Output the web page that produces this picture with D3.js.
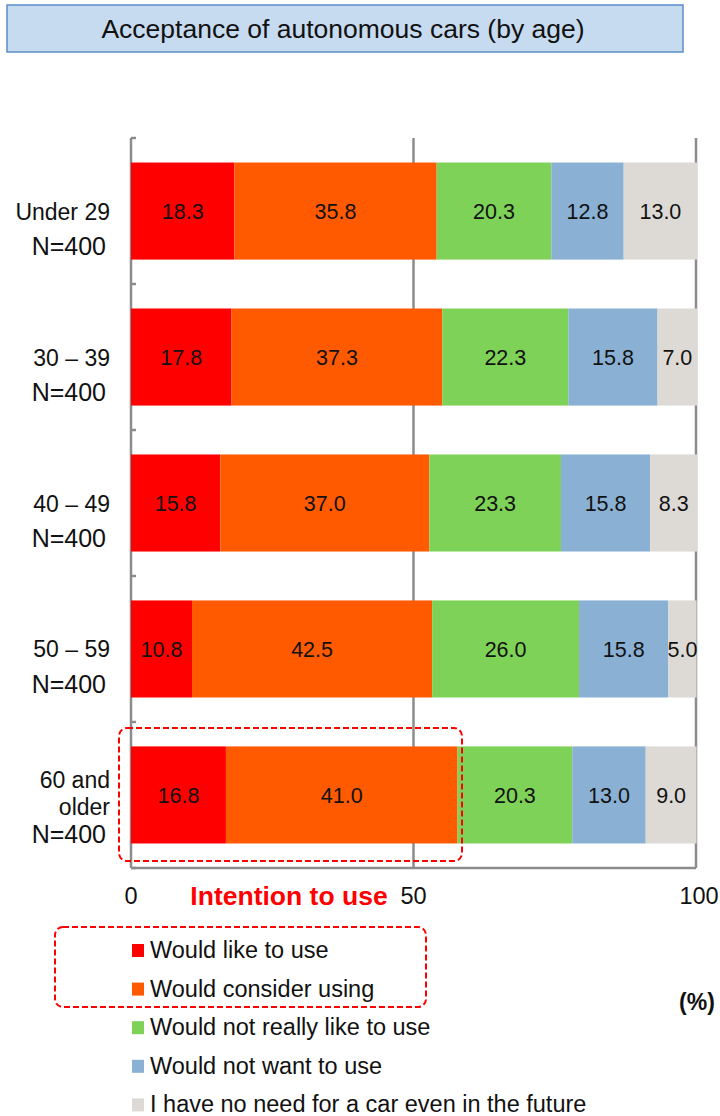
<!DOCTYPE html>
<html>
<head>
<meta charset="utf-8">
<script src="https://cdn.jsdelivr.net/npm/d3@7"></script>
<style>
  body { margin: 0; background: #fff; }
  svg { display: block; font-family: "Liberation Sans", Arial, sans-serif; }
</style>
</head>
<body>
<svg id="chart" width="720" height="1116"></svg>
<script>
// ── Data ─────────────────────────────────────────────────────────────────────
const categories = [
  ["Under 29", "N=400"],
  ["30 – 39", "N=400"],
  ["40 – 49", "N=400"],
  ["50 – 59", "N=400"],
  ["60 and", "older", "N=400"]
];
const seriesNames = [
  "Would like to use",
  "Would consider using",
  "Would not really like to use",
  "Would not want to use",
  "I have no need for a car even in the future"
];
const wouldLike     = [18.3, 17.8, 15.8, 10.8, 16.8];
const wouldConsider = [35.8, 37.3, 37.0, 42.5, 41.0];
const notReally     = [20.3, 22.3, 23.3, 26.0, 20.3];
const notWant       = [12.8, 15.8, 15.8, 15.8, 13.0];
const noNeed        = [13.0,  7.0,  8.3,  5.0,  9.0];
const xTicks = [0, 50, 100];

const colors = ["#ff0000", "#ff5a00", "#7ed257", "#8ab0d3", "#dddad5"];
const seriesVals = [wouldLike, wouldConsider, notReally, notWant, noNeed];

const rows = categories.map((c, i) => {
  const r = { idx: i };
  seriesNames.forEach((s, k) => r[s] = seriesVals[k][i]);
  return r;
});
const stacked = d3.stack().keys(seriesNames)(rows);

// ── Layout ───────────────────────────────────────────────────────────────────
const svg = d3.select("#chart");
const plot = { left: 131, right: 696, top: 138, bottom: 868 };

const x = d3.scaleLinear().domain([0, 100]).range([plot.left, plot.right]);
const y = d3.scaleBand().domain(d3.range(categories.length))
  .range([plot.top, plot.bottom]).paddingInner(0.335).paddingOuter(0.168);

// ── Title box ────────────────────────────────────────────────────────────────
svg.append("rect")
  .attr("x", 7).attr("y", 5).attr("width", 676).attr("height", 47)
  .attr("fill", "#c6daf0").attr("stroke", "#5b8fc7").attr("stroke-width", 1.5);
svg.append("text")
  .attr("x", 343).attr("y", 38).attr("text-anchor", "middle")
  .attr("font-size", 26.5).attr("fill", "#111")
  .text("Acceptance of autonomous cars (by age)");

// ── Frame & gridline ─────────────────────────────────────────────────────────
const frame = svg.append("g").attr("stroke", "#8c8c8c").attr("stroke-width", 2.5);
xTicks.forEach(t => {
  frame.append("line")
    .attr("x1", x(t)).attr("x2", x(t))
    .attr("y1", plot.top).attr("y2", plot.bottom);
});
frame.append("line")
  .attr("x1", plot.left).attr("x2", plot.right)
  .attr("y1", plot.bottom).attr("y2", plot.bottom);
// category boundary ticks
d3.range(categories.length + 1).forEach(i => {
  const yy = plot.top + i * (plot.bottom - plot.top) / categories.length;
  frame.append("line")
    .attr("x1", plot.left).attr("x2", plot.left + 5)
    .attr("y1", yy).attr("y2", yy);
});

// ── Bars ─────────────────────────────────────────────────────────────────────
const layers = svg.append("g").selectAll("g")
  .data(stacked)
  .join("g")
  .attr("fill", (d, i) => colors[i]);

layers.selectAll("rect")
  .data(d => d)
  .join("rect")
  .attr("x", d => x(d[0]))
  .attr("y", d => y(d.data.idx))
  .attr("width", d => x(d[1]) - x(d[0]))
  .attr("height", y.bandwidth());

layers.selectAll("text")
  .data(d => d)
  .join("text")
  .attr("x", d => (x(d[0]) + x(d[1])) / 2)
  .attr("y", d => y(d.data.idx) + y.bandwidth() / 2 + 8)
  .attr("text-anchor", "middle")
  .attr("font-size", 21.5)
  .attr("fill", "#111")
  .text(d => (d[1] - d[0]).toFixed(1));

// ── Category labels ──────────────────────────────────────────────────────────
const catG = svg.append("g").attr("fill", "#111").attr("text-anchor", "end");
categories.forEach((lines, i) => {
  const cy = y(i) + y.bandwidth() / 2;
  const offs = lines.length === 2 ? [8.5, 44] : [-6.5, 20.5, 48.5];
  lines.forEach((ln, j) => {
    const last = j === lines.length - 1;
    catG.append("text")
      .attr("x", last ? 106 : 110)
      .attr("y", cy + offs[j])
      .attr("font-size", last ? 25 : 23)
      .text(ln);
  });
});

// ── X tick labels ────────────────────────────────────────────────────────────
svg.append("g").selectAll("text")
  .data(xTicks)
  .join("text")
  .attr("x", d => x(d) + (d === 100 ? 3 : 0))
  .attr("y", 904)
  .attr("text-anchor", "middle")
  .attr("font-size", 23.5)
  .attr("fill", "#111")
  .text(d => d);

svg.append("text")
  .attr("x", 289).attr("y", 905).attr("text-anchor", "middle")
  .attr("font-size", 26.5).attr("font-weight", "bold").attr("fill", "#ff0000")
  .text("Intention to use");

svg.append("text")
  .attr("x", 697).attr("y", 1010).attr("text-anchor", "middle")
  .attr("font-size", 23).attr("font-weight", "bold").attr("fill", "#111")
  .text("(%)");

// ── Dashed highlight boxes ───────────────────────────────────────────────────
const dash = { stroke: "#ff0000", "stroke-width": 2, "stroke-dasharray": "6,3", fill: "none" };
const hl = svg.append("rect")
  .attr("x", 119).attr("y", 728).attr("width", 343).attr("height", 133).attr("rx", 8);
const lgBox = svg.append("rect")
  .attr("x", 55).attr("y", 927).attr("width", 371).attr("height", 80).attr("rx", 8);
[hl, lgBox].forEach(r => Object.entries(dash).forEach(([k, v]) => r.attr(k, v)));

// ── Legend ───────────────────────────────────────────────────────────────────
const legend = svg.append("g").attr("transform", "translate(132,950)");
const items = legend.selectAll("g")
  .data(seriesNames)
  .join("g")
  .attr("transform", (d, i) => `translate(0,${i * 38.6})`);
items.append("rect")
  .attr("x", 0).attr("y", -6).attr("width", 12).attr("height", 13)
  .attr("fill", (d, i) => colors[i]);
items.append("text")
  .attr("x", 18).attr("y", 8)
  .attr("font-size", 23.5).attr("fill", "#111")
  .text(d => d);
</script>
</body>
</html>
